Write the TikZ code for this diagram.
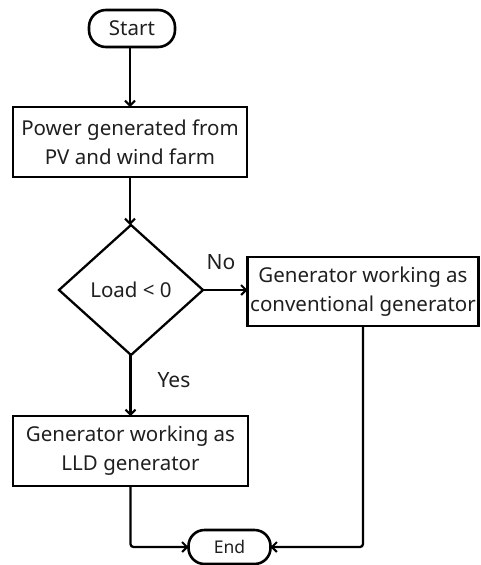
\documentclass[tikz,border=0pt]{standalone}
\usepackage{fontspec}
\setmainfont{Noto Sans}
\usetikzlibrary{shapes.geometric,arrows.meta}
\begin{document}
\begin{tikzpicture}[x=1pt,y=-1pt,
  every node/.style={inner sep=0pt,outer sep=0pt,font=\fontsize{20.5}{29}\selectfont,text=black!88},
  term/.style={draw,line width=2.6pt,rounded corners=17pt},
  proc/.style={draw,line width=2.8pt,align=center},
  dec/.style={draw,diamond,line width=2.3pt,aspect=1.1},
  conn/.style={line width=2.3pt,-{Straight Barb[length=5pt,width=10pt,line width=2pt]},rounded corners=3pt},
  lbl/.style={font=\fontsize{21}{25}\selectfont}]
\useasboundingbox (0,0) rectangle (480,565);
\node[term,minimum width=86pt,minimum height=37pt] (start) at (132,28.5) {Start};
\node[proc,minimum width=234pt,minimum height=70pt] (p1) at (130,142) {Power generated from\\PV and wind farm};
\node[dec,minimum width=144pt,minimum height=130pt] (d) at (131,290) {Load < 0};
\node[proc,minimum width=231pt,minimum height=69pt] (p2) at (363,291.5) {Generator working as\\conventional generator};
\node[proc,minimum width=235pt,minimum height=70pt] (p3) at (130.5,451) {Generator working as\\LLD generator};
\node[term,minimum width=82pt,minimum height=34pt,font=\fontsize{17.5}{19}\selectfont,rounded corners=16pt] (end) at (229.5,547) {End};
\node[lbl] (no) at (221,262) {No};
\node[lbl] (yes) at (174,380) {Yes};
\draw[conn] (start.south -| p1.north) -- (p1.north);
\draw[conn] (p1.south) -- (d.north -| p1.south);
\draw[conn] (d.east) -- (d.east -| p2.west);
\draw[conn] (d.south -| p3.north) -- (p3.north);
\draw[conn] (p3.south) |- (end.west);
\draw[conn] (p2.south) |- (end.east);
\end{tikzpicture}
\end{document}
